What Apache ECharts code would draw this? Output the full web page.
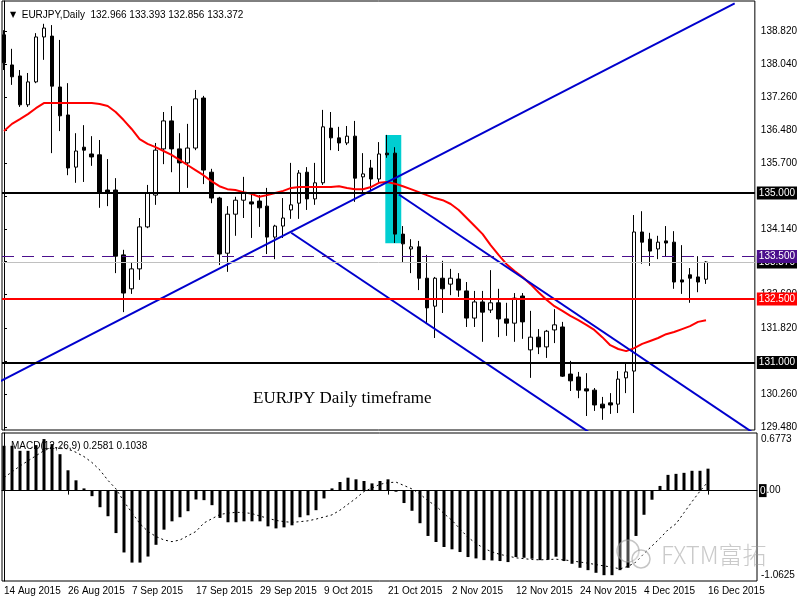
<!DOCTYPE html>
<html>
<head>
<meta charset="utf-8">
<title>EURJPY Daily</title>
<script src="https://cdn.jsdelivr.net/npm/echarts@6.0.0/dist/echarts.min.js"></script>
<style>
  html, body { margin: 0; padding: 0; background: #fff; }
  #chart { width: 800px; height: 600px; }
</style>
</head>
<body>
<div id="chart"></div>
<script>
var FONT = "'Liberation Sans', Arial, sans-serif";
var FS = 10;

// trading days shown on the chart
var tradingDays = [
    ['Aug', [14, 17, 18, 19, 20, 21, 24, 25, 26, 27, 28, 31]],
    ['Sep', [1, 2, 3, 4, 7, 8, 9, 10, 11, 14, 15, 16, 17, 18, 21, 22, 23, 24, 25, 28, 29, 30]],
    ['Oct', [1, 2, 5, 6, 7, 8, 9, 12, 13, 14, 15, 16, 19, 20, 21, 22, 23, 26, 27, 28, 29, 30]],
    ['Nov', [2, 3, 4, 5, 6, 9, 10, 11, 12, 13, 16, 17, 18, 19, 20, 23, 24, 25, 26, 27, 30]],
    ['Dec', [1, 2, 3, 4, 7, 8, 9, 10, 11, 14, 15, 16]]
];
var dates = [];
tradingDays.forEach(function (m) {
    m[1].forEach(function (d) { dates.push(d + ' ' + m[0] + ' 2015'); });
});

var xTickLabels = ['14 Aug 2015', '26 Aug 2015', '7 Sep 2015', '17 Sep 2015', '29 Sep 2015', '9 Oct 2015',
    '21 Oct 2015', '2 Nov 2015', '12 Nov 2015', '24 Nov 2015', '4 Dec 2015', '16 Dec 2015'];

var priceTicks = [129.48, 130.26, 131.04, 131.82, 132.60, 133.38, 134.14, 134.92, 135.70, 136.48, 137.26, 138.04, 138.82];
var macdTicks = [0.6773, -1.0625];

// open, high, low, close
var ohlc = [
    [138.73, 138.84, 137.90, 138.07], [138.02, 138.40, 137.55, 137.74], [137.76, 137.90, 137.03, 137.08],
    [137.08, 137.83, 137.03, 137.62], [137.62, 138.77, 137.59, 138.68], [138.68, 138.99, 138.14, 138.89],
    [138.70, 138.96, 135.94, 137.52], [137.50, 138.61, 136.46, 136.82], [136.84, 137.59, 135.42, 135.59],
    [135.61, 136.41, 135.24, 135.99], [136.08, 136.60, 135.26, 136.01], [135.92, 136.34, 135.64, 135.85],
    [135.90, 136.25, 134.65, 135.00], [135.07, 135.80, 134.69, 135.00], [135.07, 135.35, 133.11, 133.51],
    [133.54, 133.66, 132.19, 132.64], [132.74, 133.35, 132.62, 133.21], [133.21, 134.41, 132.95, 134.20],
    [134.20, 135.19, 134.17, 135.00], [134.95, 136.18, 134.72, 136.01], [136.04, 136.91, 135.68, 136.70],
    [136.70, 137.05, 135.49, 136.04], [136.04, 136.41, 135.00, 135.71], [135.71, 136.63, 135.12, 136.06],
    [136.06, 137.43, 136.01, 137.22], [137.24, 137.29, 135.21, 135.54], [135.49, 135.57, 134.76, 134.88],
    [134.88, 134.91, 133.30, 133.56], [133.58, 134.69, 133.14, 134.50], [134.50, 134.91, 133.99, 134.83],
    [134.83, 135.38, 134.41, 135.00], [134.79, 135.00, 133.94, 134.74], [134.81, 134.95, 134.20, 134.65],
    [134.69, 135.12, 133.56, 133.96], [133.96, 134.25, 133.44, 134.22], [134.22, 134.88, 133.94, 134.41],
    [134.60, 135.71, 134.39, 134.72], [134.76, 135.54, 134.39, 135.47], [135.49, 135.61, 134.60, 134.86],
    [134.86, 135.71, 134.72, 135.24], [135.24, 136.96, 135.19, 136.56], [136.53, 136.91, 136.01, 136.30],
    [136.30, 136.56, 135.99, 136.18], [136.18, 136.58, 136.13, 136.34], [136.34, 136.70, 134.79, 135.35],
    [135.38, 135.94, 135.02, 135.45], [135.59, 135.78, 135.07, 135.33], [135.33, 136.20, 135.24, 135.92],
    [135.94, 136.37, 135.83, 135.90], [135.94, 136.08, 133.82, 134.03], [134.03, 134.22, 133.35, 133.80],
    [133.68, 133.91, 133.11, 133.73], [133.73, 133.87, 132.71, 132.99], [132.99, 133.54, 131.93, 132.29],
    [132.33, 133.02, 131.58, 132.99], [132.99, 133.40, 132.17, 132.74], [132.85, 133.21, 132.59, 132.99],
    [132.97, 133.11, 132.55, 132.71], [132.69, 132.90, 131.84, 132.05], [132.05, 132.69, 131.84, 132.43],
    [132.43, 132.69, 131.49, 132.19], [132.24, 133.18, 132.17, 132.41], [132.41, 132.74, 131.60, 132.03],
    [132.03, 132.41, 131.63, 131.93], [131.93, 132.64, 131.49, 132.52], [132.57, 132.64, 131.56, 131.96],
    [131.30, 132.22, 130.64, 131.60], [131.60, 131.79, 131.20, 131.37], [131.37, 131.77, 131.11, 131.74],
    [131.77, 132.26, 131.46, 131.89], [131.84, 131.96, 130.66, 130.68], [130.73, 131.04, 130.33, 130.57],
    [130.66, 130.78, 130.16, 130.35], [130.38, 130.75, 129.74, 130.33], [130.35, 130.40, 129.86, 130.00],
    [130.02, 130.19, 129.65, 129.93], [130.05, 130.28, 129.79, 130.00], [130.02, 130.80, 129.81, 130.61],
    [130.64, 130.99, 130.28, 130.78], [130.80, 134.48, 129.81, 134.08], [134.08, 134.57, 133.33, 133.84],
    [133.91, 134.06, 133.28, 133.63], [133.68, 133.99, 133.44, 133.84], [133.87, 134.22, 133.49, 133.82],
    [133.84, 134.10, 132.74, 132.90], [132.95, 133.77, 132.62, 132.90], [133.07, 133.23, 132.41, 132.99],
    [133.02, 133.51, 132.66, 132.90], [132.966, 133.393, 132.856, 133.372]
];

// moving average (red)
var ma = [
    136.46, 136.63, 136.74, 136.86, 137.00, 137.12, 137.12, 137.12, 137.12, 137.12,
    137.12, 137.12, 137.10, 137.05, 136.91, 136.72, 136.51, 136.27, 136.16, 136.08,
    135.99, 135.90, 135.78, 135.66, 135.54, 135.42, 135.28, 135.16, 135.09, 135.07,
    135.02, 134.98, 134.91, 134.95, 135.00, 135.05, 135.12, 135.14, 135.14, 135.14,
    135.14, 135.14, 135.16, 135.12, 135.09, 135.09, 135.14, 135.24, 135.26, 135.22,
    135.16, 135.09, 135.02, 134.95, 134.88, 134.83, 134.74, 134.60, 134.41, 134.22,
    134.03, 133.77, 133.54, 133.32, 133.16, 133.02, 132.85, 132.66, 132.48, 132.33,
    132.22, 132.10, 132.00, 131.89, 131.77, 131.60, 131.41, 131.32, 131.27, 131.34,
    131.44, 131.51, 131.58, 131.67, 131.72, 131.79, 131.86, 131.96, 132.00
];

// MACD(12,26,9) main histogram and signal
var macd = [
    0.527, 0.527, 0.468, 0.468, 0.535, 0.606, 0.547, 0.428, 0.239, 0.121,
    0.026, -0.065, -0.195, -0.301, -0.499, -0.727, -0.846, -0.846, -0.775, -0.637,
    -0.459, -0.361, -0.313, -0.242, -0.104, -0.112, -0.171, -0.321, -0.372, -0.372,
    -0.361, -0.361, -0.361, -0.420, -0.444, -0.432, -0.408, -0.313, -0.290, -0.230,
    -0.092, 0.026, 0.101, 0.152, 0.133, 0.113, 0.085, 0.113, 0.133, -0.013,
    -0.146, -0.237, -0.383, -0.533, -0.604, -0.663, -0.690, -0.722, -0.781, -0.797,
    -0.817, -0.821, -0.828, -0.840, -0.781, -0.789, -0.801, -0.817, -0.813, -0.777,
    -0.828, -0.860, -0.907, -0.935, -0.966, -0.994, -0.994, -0.935, -0.907, -0.533,
    -0.284, -0.107, 0.055, 0.185, 0.197, 0.209, 0.233, 0.233, 0.2581
];
var signal = [
    0.153, 0.22, 0.29, 0.35, 0.41, 0.47, 0.505, 0.505, 0.49, 0.45,
    0.40, 0.33, 0.24, 0.12, 0.02, -0.13, -0.26, -0.39, -0.48, -0.54,
    -0.58, -0.60, -0.58, -0.53, -0.48, -0.38, -0.33, -0.28, -0.265, -0.255,
    -0.258, -0.27, -0.30, -0.325, -0.35, -0.365, -0.373, -0.365, -0.355, -0.335,
    -0.31, -0.285, -0.23, -0.16, -0.09, -0.01, 0.03, 0.075, 0.093, 0.10,
    0.06, 0.02, -0.04, -0.12, -0.18, -0.27, -0.35, -0.45, -0.55, -0.62,
    -0.68, -0.72, -0.75, -0.77, -0.79, -0.80, -0.81, -0.814, -0.81, -0.806,
    -0.815, -0.826, -0.84, -0.853, -0.87, -0.885, -0.90, -0.92, -0.89, -0.84,
    -0.74, -0.65, -0.56, -0.46, -0.39, -0.26, -0.13, -0.006, 0.1038
];

// drawn objects: trend lines [bar index, price], levels, highlighted zone
var trendUp = [[-0.5, 130.556], [91.6, 139.473]];
var trendDownA = [[36.0, 134.063], [74.0, 129.275]];
var trendDownB = [[49.5, 134.964], [94.5, 129.27]];
var levelBlack = [135.000, 131.000];
var levelRed = [132.500];
var levelDash = [133.500];
var zone = [[47.8, 136.367], [49.8, 133.813]];

var last = ohlc[ohlc.length - 1];
var bid = last[3];
var xTickPos = xTickLabels.map(function (d) { return dates.indexOf(d); });

var candleData = ohlc.map(function (r, i) { return [i, r[0], r[3], r[2], r[1]]; });
var maData = ma.map(function (v, i) { return [i, v]; });
var macdData = macd.map(function (v, i) { return [i, v]; });
var signalData = signal.map(function (v, i) { return [i, v]; });

var chart = echarts.init(document.getElementById('chart'));

function lvlLabel(bg, fg) {
    return {
        show: true, position: 'end', distance: 2,
        formatter: function (p) { return Number(p.value).toFixed(3); },
        backgroundColor: bg, color: fg, padding: [2, 2, 1, 2],
        fontFamily: FONT, fontSize: FS
    };
}

var levelLines = [];
levelBlack.forEach(function (v) {
    levelLines.push({ yAxis: v, lineStyle: { color: '#000', width: 2, type: 'solid' }, label: lvlLabel('#000', '#fff') });
});
levelLines.push({ yAxis: bid, lineStyle: { color: '#c0c0c0', width: 1, type: 'solid' }, label: lvlLabel('#000', '#fff') });
levelRed.forEach(function (v) {
    levelLines.push({ yAxis: v, lineStyle: { color: '#ff0000', width: 2, type: 'solid' }, label: lvlLabel('#ff0000', '#fff') });
});
levelDash.forEach(function (v) {
    levelLines.push({ yAxis: v, lineStyle: { color: '#4b0f8c', width: 1, type: [12, 8] }, label: lvlLabel('#4b0f8c', '#fff') });
});

function trend(name, pts) {
    return {
        name: name, type: 'line', xAxisIndex: 0, yAxisIndex: 0, data: pts,
        symbol: 'none', silent: true, z: 4,
        lineStyle: { color: '#0000cd', width: 2 }
    };
}

var option = {
    animation: false,
    backgroundColor: '#fff',
    title: [{
        text: '{t|▼}  EURJPY,Daily  ' + last[0].toFixed(3) + ' ' + last[1].toFixed(3) + ' ' +
            last[2].toFixed(3) + ' ' + last[3].toFixed(3),
        left: 5, top: 5,
        textStyle: {
            fontFamily: FONT, fontSize: FS, fontWeight: 'normal', color: '#000',
            rich: { t: { fontSize: 8, fontFamily: 'DejaVu Sans', color: '#000' } }
        }
    }, {
        text: 'MACD(12,26,9) ' + macd[macd.length - 1].toFixed(4) + ' ' + signal[signal.length - 1].toFixed(4),
        left: 6, top: 436,
        textStyle: { fontFamily: FONT, fontSize: FS, fontWeight: 'normal', color: '#000' }
    }, {
        text: 'EURJPY Daily timeframe',
        left: 248, top: 385,
        textStyle: { fontFamily: "'Liberation Serif', 'DejaVu Serif', serif", fontSize: 17, fontWeight: 'normal', color: '#000' }
    }],
    grid: [
        { left: 2, top: 1, width: 755, height: 429, show: true, borderColor: '#000', borderWidth: 1, backgroundColor: '#fff' },
        { left: 2, top: 433, width: 755, height: 148, show: true, borderColor: '#000', borderWidth: 1, backgroundColor: '#fff' }
    ],
    xAxis: [{
        type: 'value', gridIndex: 0, min: -0.25, max: 94.125, show: false
    }, {
        type: 'value', gridIndex: 1, min: -0.25, max: 94.125,
        axisLine: { show: true, lineStyle: { color: '#000' } },
        axisTick: { show: true, customValues: xTickPos, length: 4, lineStyle: { color: '#000' } },
        axisLabel: {
            customValues: xTickPos, formatter: function (v) { return dates[v]; },
            align: 'left', margin: 5, color: '#000', fontFamily: FONT, fontSize: FS
        },
        splitLine: { show: false }
    }],
    yAxis: [{
        type: 'value', gridIndex: 0, position: 'right', min: 129.41, max: 139.528,
        axisLine: { show: true, lineStyle: { color: '#000' } },
        axisTick: { show: true, customValues: priceTicks, length: 3, lineStyle: { color: '#000' } },
        axisLabel: {
            customValues: priceTicks, formatter: function (v) { return v.toFixed(3); },
            color: '#000', fontFamily: FONT, fontSize: FS, margin: 6
        },
        splitLine: { show: false }
    }, {
        type: 'value', gridIndex: 1, position: 'right', min: -1.0625, max: 0.6773,
        axisLine: { show: true, lineStyle: { color: '#000' } },
        axisTick: { show: false },
        axisLabel: {
            customValues: macdTicks,
            formatter: function (v) { return v > 0 ? '\n' + v.toFixed(4) : v.toFixed(4) + '\n'; },
            lineHeight: 12, color: '#000', fontFamily: FONT, fontSize: FS, margin: 4
        },
        splitLine: { show: false }
    }],
    series: [{
        name: 'zone', type: 'line', xAxisIndex: 0, yAxisIndex: 0, data: zone,
        symbol: 'none', silent: true, z: 1, lineStyle: { width: 0, opacity: 0 },
        markArea: {
            silent: true, itemStyle: { color: '#00ced1', opacity: 1 },
            data: [[{ coord: zone[0] }, { coord: zone[1] }]]
        }
    }, {
        name: 'EURJPY', type: 'candlestick', xAxisIndex: 0, yAxisIndex: 0,
        data: candleData, barWidth: 4, z: 2, silent: true,
        itemStyle: { color: '#fff', color0: '#000', borderColor: '#000', borderColor0: '#000', borderWidth: 1 }
    }, {
        name: 'MA', type: 'line', xAxisIndex: 0, yAxisIndex: 0, data: maData,
        symbol: 'none', silent: true, z: 3,
        lineStyle: { color: '#ff0000', width: 2 },
        markLine: { silent: true, symbol: ['none', 'none'], data: levelLines }
    },
        trend('up', trendUp),
        trend('downA', trendDownA),
        trend('downB', trendDownB),
    {
        name: 'MACD', type: 'bar', xAxisIndex: 1, yAxisIndex: 1, data: macdData,
        barWidth: 3, silent: true, itemStyle: { color: '#000' },
        markLine: {
            silent: true, symbol: ['none', 'none'],
            lineStyle: { color: '#000', width: 1, type: 'solid' },
            label: {
                show: true, position: 'end', distance: 2,
                formatter: '{z|0}{n|.00}',
                rich: {
                    z: { backgroundColor: '#000', color: '#fff', padding: [2, 1, 1, 1], fontFamily: FONT, fontSize: FS },
                    n: { color: '#000', fontFamily: FONT, fontSize: FS }
                }
            },
            data: [{ yAxis: 0 }]
        }
    }, {
        name: 'Signal', type: 'line', xAxisIndex: 1, yAxisIndex: 1, data: signalData,
        symbol: 'none', silent: true, z: 3,
        lineStyle: { color: '#000', width: 1, type: [2, 3] }
    }],
    graphic: [{
        type: 'circle', shape: { cx: 628, cy: 551, r: 11 }, z: 100, silent: true,
        style: { fill: 'rgba(255,255,255,0.3)', stroke: 'rgba(150,150,150,0.55)', lineWidth: 1.5 }
    }, {
        type: 'circle', shape: { cx: 641, cy: 559, r: 9 }, z: 100, silent: true,
        style: { fill: 'rgba(255,255,255,0.3)', stroke: 'rgba(150,150,150,0.55)', lineWidth: 1.5 }
    }, {
        type: 'text', left: 661, top: 543, z: 100, silent: true,
        style: {
            text: 'FXTM富拓', fontSize: 24, fontWeight: 300,
            fontFamily: "'Noto Sans CJK SC', 'Noto Sans', sans-serif",
            fill: 'rgba(150,150,150,0.5)'
        }
    }]
};

chart.setOption(option);
window.addEventListener('resize', function () { chart.resize(); });
</script>
</body>
</html>
